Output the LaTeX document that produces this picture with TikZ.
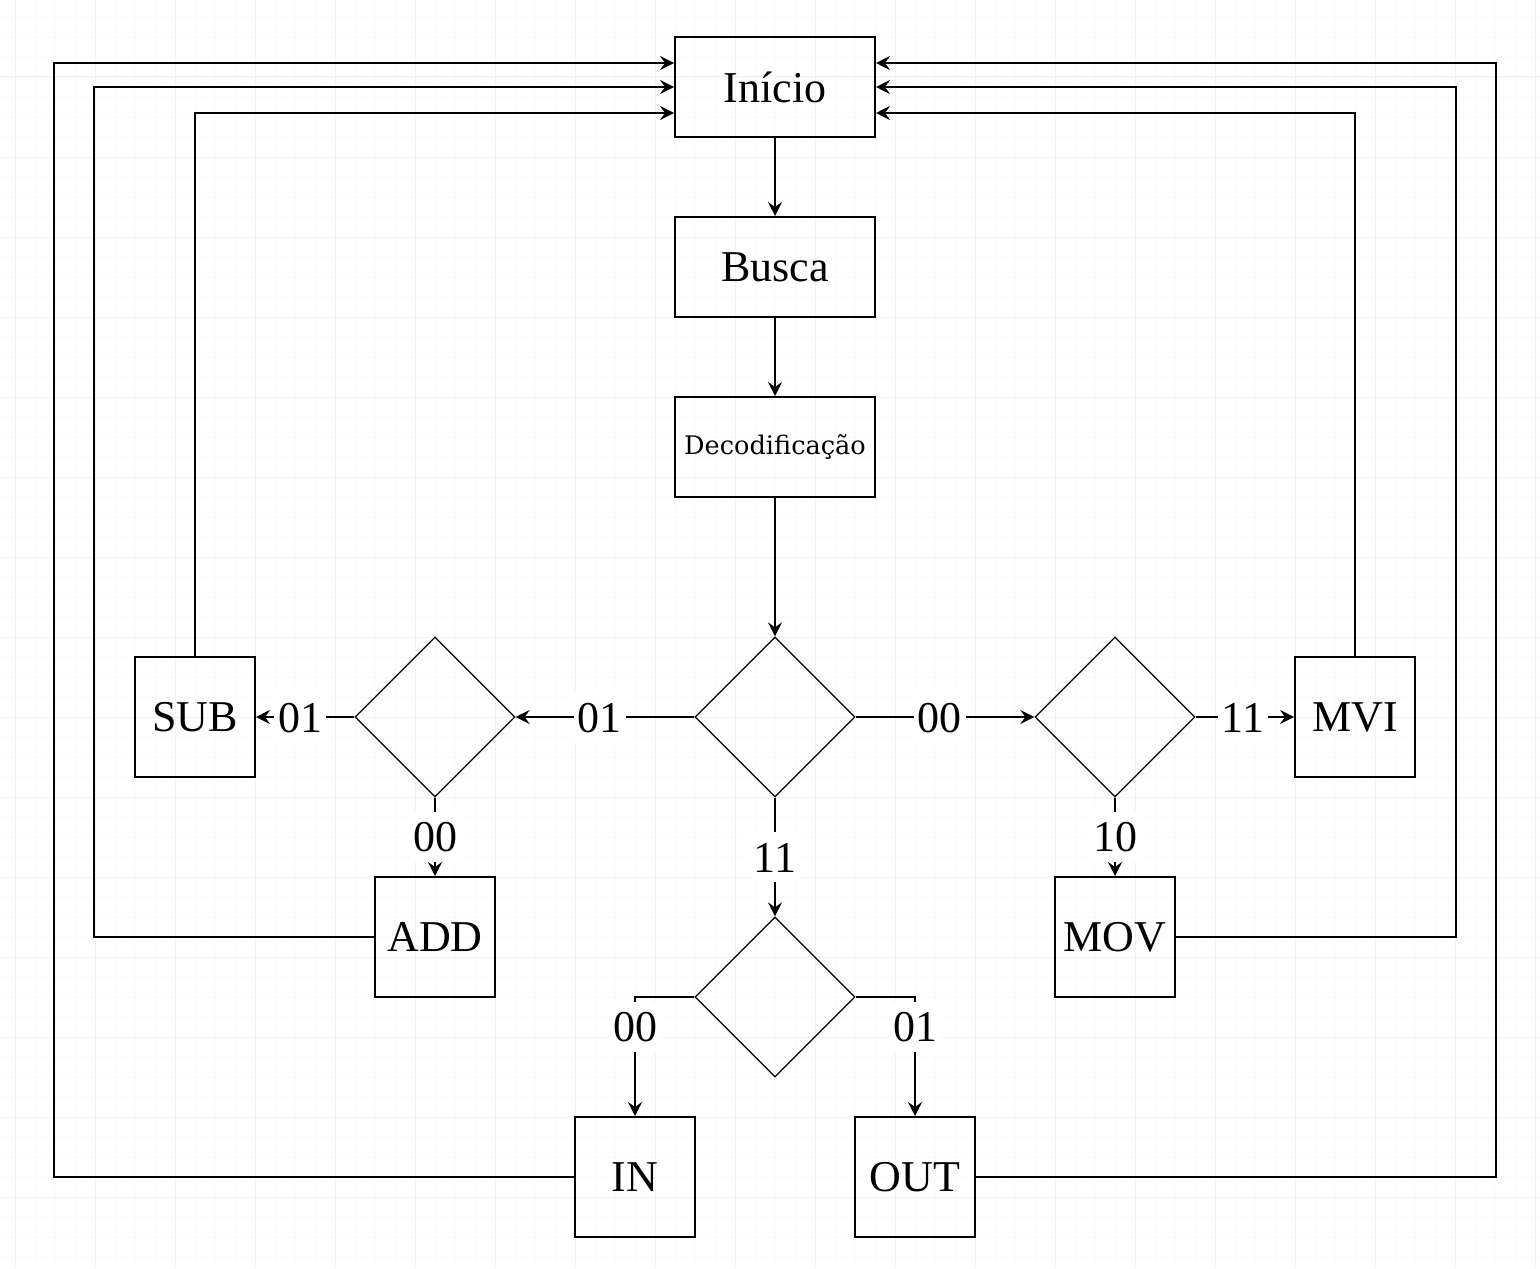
\documentclass[tikz,border=0pt]{standalone}
\usepackage{fontspec}
\setmainfont{Liberation Serif}
\newfontfamily\decfont{DejaVu Serif}
\usetikzlibrary{arrows.meta,shapes.geometric}

\begin{document}
\begin{tikzpicture}[x=0.5pt,y=-0.5pt,
		caixa/.style={draw,line width=1pt,minimum width=60pt,minimum height=60pt,inner sep=0pt,font=\fontsize{22}{26}\selectfont},
		larga/.style={caixa,minimum width=100pt,minimum height=50pt},
		decisao/.style={draw,diamond,line width=0.65pt,minimum width=80pt,minimum height=80pt,inner sep=0pt},
		rotulo/.style={fill=white,inner xsep=2pt,inner ysep=0pt,text height=20pt,text depth=5pt,font=\fontsize{22}{26}\selectfont},
		seta/.style={-{Stealth[length=7pt,width=7pt,inset=2.5pt]},line width=0.9pt},
		grade/.style={black!5,line width=0.5pt},
		gradefina/.style={black!2,line width=0.4pt}]
	\useasboundingbox (0,0) rectangle (1540,1268);
	\fill[white] (0,0) rectangle (1540,1268);
	% grade de fundo
	\foreach \gx in {15,35,...,1535} \draw[gradefina] (\gx,0) -- (\gx,1268);
	\foreach \gy in {17,37,...,1257} \draw[gradefina] (0,\gy) -- (1540,\gy);
	\foreach \gx in {15,95,...,1535} \draw[grade] (\gx,0) -- (\gx,1268);
	\foreach \gy in {77,157,...,1257} \draw[grade] (0,\gy) -- (1540,\gy);

	\node[larga] (inicio) at (775,87) {Início};
	\node[larga] (busca) at (775,267) {Busca};
	\node[larga,font=\decfont\fontsize{12.8}{15}\selectfont] (decod) at (775,447) {Decodificação};
	\node[decisao] (d0) at (775,717) {};
	\node[decisao] (dl) at (435,717) {};
	\node[decisao] (dr) at (1115,717) {};
	\node[decisao] (db) at (775,997) {};
	\node[caixa] (sub) at (195,717) {SUB};
	\node[caixa] (mvi) at (1355,717) {MVI};
	\node[caixa] (add) at (435,937) {ADD};
	\node[caixa] (mov) at (1115,937) {MOV};
	\node[caixa] (in) at (635,1177) {IN};
	\node[caixa] (out) at (915,1177) {OUT};

	\path[seta]
	(inicio) edge (busca)
	(busca) edge (decod)
	(decod) edge (d0)
	(d0) edge node[rotulo,pos=0.53]{01} (dl) edge node[rotulo,pos=0.47]{00} (dr) edge node[rotulo]{11} (db)
	(dl) edge node[rotulo,pos=0.55]{01} (sub) edge node[rotulo]{00} (add)
	(dr) edge node[rotulo,pos=0.48]{11} (mvi) edge node[rotulo]{10} (mov);
	\draw[seta] (db.west) -| node[rotulo,pos=0.625]{00} (in.north);
	\draw[seta] (db.east) -| node[rotulo,pos=0.625]{01} (out.north);

	% retornos ao inicio
	\draw[seta] (sub.north) |- ([yshift=-13pt]inicio.west);
	\draw[seta] (add.west) -- ++(-280,0) |- (inicio.west);
	\draw[seta] (in.west) -- ++(-520,0) |- ([yshift=12pt]inicio.west);
	\draw[seta] (mvi.north) |- ([yshift=-13pt]inicio.east);
	\draw[seta] (mov.east) -- ++(280,0) |- (inicio.east);
	\draw[seta] (out.east) -- ++(520,0) |- ([yshift=12pt]inicio.east);
\end{tikzpicture}
\end{document}
